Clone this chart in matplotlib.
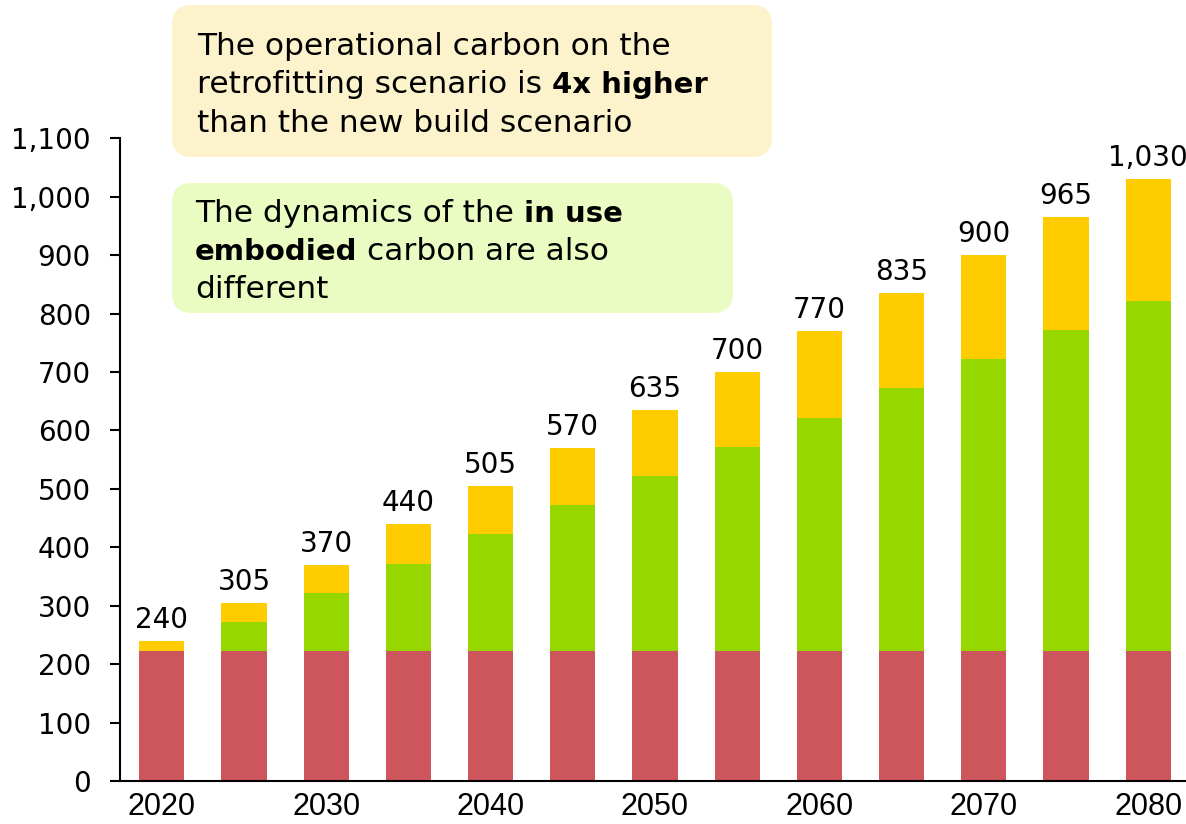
import numpy as np
import matplotlib
matplotlib.use("Agg")
import matplotlib.pyplot as plt
from matplotlib.patches import FancyBboxPatch
from matplotlib.ticker import FuncFormatter

plt.rcParams['font.family'] = 'DejaVu Sans'

# data
years = [2020, 2025, 2030, 2035, 2040, 2045, 2050, 2055, 2060, 2065, 2070, 2075, 2080]
totals = [240, 305, 370, 440, 505, 570, 635, 700, 770, 835, 900, 965, 1030]
base = [222] * 13
in_use = [0, 50, 100, 150, 200, 250, 300, 350, 400, 450, 500, 550, 600]
tick_years = [2020, 2030, 2040, 2050, 2060, 2070, 2080]

top = [t - b - g for t, b, g in zip(totals, base, in_use)]

c_red = '#CD555C'
c_green = '#97D700'
c_yellow = '#FFCC00'

W, H = 1186, 824
fig = plt.figure(figsize=(W / 100, H / 100), dpi=100)
ax = fig.add_axes([120 / W, 1 - 781 / H, 1 - 120 / W, (781 - 138.3) / H])

x = np.array(years, dtype=float)
bw = 2.75
ax.bar(x, base, width=bw, color=c_red)
ax.bar(x, in_use, width=bw, bottom=base, color=c_green)
ax.bar(x, top, width=bw, bottom=np.array(base) + np.array(in_use), color=c_yellow)

for xi, t in zip(x, totals):
    ax.annotate(f'{t:,}', (xi, t), xytext=(0, 5), textcoords='offset points',
                ha='center', va='bottom', fontsize=20)

ax.set_xlim(2017.46, 2082.3)
ax.set_ylim(0, 1100)
ax.set_yticks(range(0, 1101, 100))
ax.yaxis.set_major_formatter(FuncFormatter(lambda v, p: f'{v:,.0f}'))
ax.set_xticks(tick_years)
ax.set_xticklabels([str(y) for y in tick_years], family='Liberation Sans', fontsize=22)
ax.tick_params(axis='x', length=0, pad=8)
ax.tick_params(axis='y', length=7, width=1.5, pad=14, labelsize=20)
for s in ['top', 'right']:
    ax.spines[s].set_visible(False)
for s in ['left', 'bottom']:
    ax.spines[s].set_linewidth(1.5)

# overlay in pixel units for the call-out boxes
ov = fig.add_axes([0, 0, 1, 1])
ov.set_xlim(0, W)
ov.set_ylim(H, 0)
ov.axis('off')

ov.add_patch(FancyBboxPatch((172, 5), 600, 152, boxstyle='round,pad=0,rounding_size=20',
                            fc='#FCF2CC', ec='none'))
ov.add_patch(FancyBboxPatch((172, 183), 561, 130, boxstyle='round,pad=0,rounding_size=20',
                            fc='#EBFCC3', ec='none'))

renderer = fig.canvas.get_renderer()
fs = 22.5
fs_bold = 21


def rich_line(x0, y0, parts):
    # parts: list of (text, bold)
    sp = ov.text(0, 0, 'a a', fontsize=fs)
    sp2 = ov.text(0, 0, 'aa', fontsize=fs)
    space = sp.get_window_extent(renderer).width - sp2.get_window_extent(renderer).width
    sp.remove()
    sp2.remove()
    xc = x0
    for txt, bold in parts:
        t = ov.text(xc, y0, txt, fontsize=fs_bold if bold else fs,
                    fontweight='bold' if bold else 'normal', va='baseline', ha='left')
        xc += t.get_window_extent(renderer).width + space


rich_line(197, 55, [('The operational carbon on the', False)])
rich_line(197, 93, [('retrofitting scenario is', False), ('4x higher', True)])
rich_line(197, 132, [('than the new build scenario', False)])

rich_line(195, 222, [('The dynamics of the', False), ('in use', True)])
rich_line(195, 260, [('embodied', True), ('carbon are also', False)])
rich_line(195, 298, [('different', False)])

fig.savefig('out.png', dpi=100)
